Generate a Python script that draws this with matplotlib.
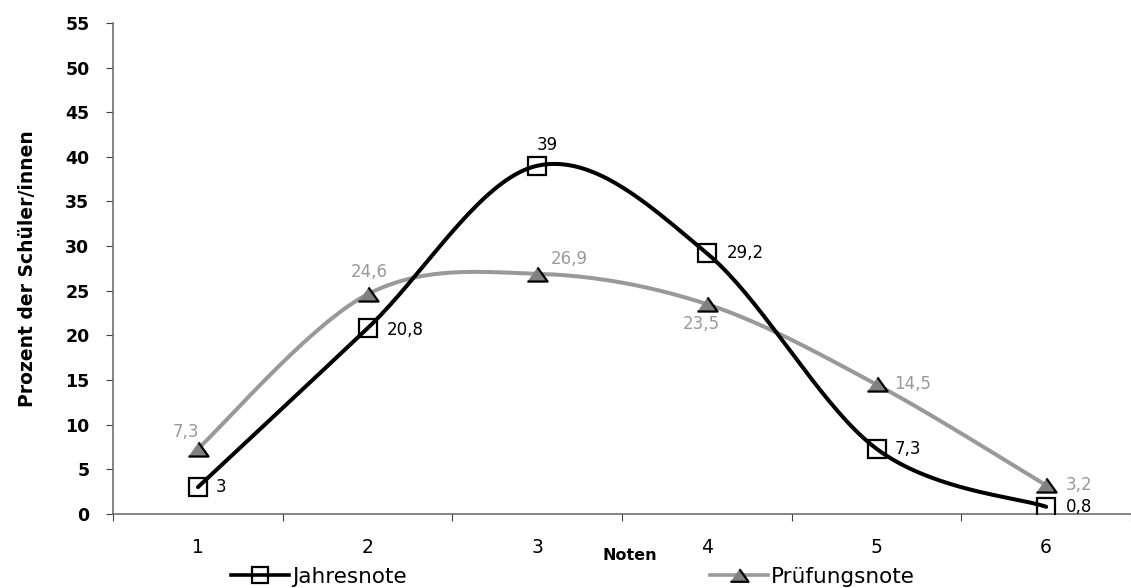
import numpy as np
import matplotlib
matplotlib.use('Agg')
import matplotlib.pyplot as plt
from matplotlib.lines import Line2D

plt.rcParams['font.family'] = ['DejaVu Sans']

noten = [1, 2, 3, 4, 5, 6]
jahresnote = [3, 20.8, 39, 29.2, 7.3, 0.8]
pruefungsnote = [7.3, 24.6, 26.9, 23.5, 14.5, 3.2]
jahres_labels = ['3', '20,8', '39', '29,2', '7,3', '0,8']
pruef_labels = ['7,3', '24,6', '26,9', '23,5', '14,5', '3,2']
yticks = list(range(0, 60, 5))


def smooth(x, y, n=40):
    # bezier smoothing like the excel "smoothed line"
    x = np.asarray(x, float)
    y = np.asarray(y, float)
    px = np.concatenate([[x[0]], x, [x[-1]]])
    py = np.concatenate([[y[0]], y, [y[-1]]])
    xs, ys = [], []
    t = np.linspace(0, 1, n)
    for i in range(1, len(px) - 2):
        p0 = np.array([px[i], py[i]])
        p3 = np.array([px[i + 1], py[i + 1]])
        p1 = p0 + (np.array([px[i + 1], py[i + 1]]) - np.array([px[i - 1], py[i - 1]])) / 6
        p2 = p3 - (np.array([px[i + 2], py[i + 2]]) - np.array([px[i], py[i]])) / 6
        b = ((1 - t) ** 3)[:, None] * p0 + (3 * (1 - t) ** 2 * t)[:, None] * p1 \
            + (3 * (1 - t) * t ** 2)[:, None] * p2 + (t ** 3)[:, None] * p3
        xs.extend(b[:, 0])
        ys.extend(b[:, 1])
    return xs, ys


tri = [(-1, -0.7), (1, -0.7), (0, 0.7)]
grey = '#999999'

fig = plt.figure(figsize=(11.31, 5.88), dpi=100)
ax = fig.add_axes([0.1, 0.126, 0.9, 0.835])

sx, sy = smooth(noten, jahresnote)
ax.plot(sx, sy, color='black', lw=2.9, zorder=3, solid_capstyle='round')
sx, sy = smooth(noten, pruefungsnote)
ax.plot(sx, sy, color=grey, lw=2.9, zorder=2, solid_capstyle='round')
ax.plot(noten, jahresnote, ls='none', marker='s', ms=13.5, mfc='none',
        mec='black', mew=1.6, zorder=4)
ax.plot(noten, pruefungsnote, ls='none', marker=tri, ms=14.5, mfc='#808080',
        mec='black', mew=1.6, zorder=5)

# data labels (offsets in points)
j_off = [(13, 0, 'left'), (14, -1, 'left'), (7, 15, 'center'), (14, 0, 'left'),
         (13, 0, 'left'), (14, 0, 'left')]
p_off = [(-9, 12, 'center'), (1, 16, 'center'), (10, 11, 'left'), (-4, -14, 'center'),
         (13, 0, 'left'), (14, 0, 'left')]
for xv, yv, lab, (dx, dy, ha) in zip(noten, jahresnote, jahres_labels, j_off):
    ax.annotate(lab, (xv, yv), xytext=(dx, dy), textcoords='offset points',
                ha=ha, va='center', fontsize=12, color='black')
for xv, yv, lab, (dx, dy, ha) in zip(noten, pruefungsnote, pruef_labels, p_off):
    ax.annotate(lab, (xv, yv), xytext=(dx, dy), textcoords='offset points',
                ha=ha, va='center', fontsize=12, color=grey)

ax.set_xlim(0.5, 6.5)
ax.set_ylim(0, 55)
ax.set_yticks(yticks)
ax.set_yticklabels([str(v) for v in yticks], fontweight='bold', fontsize=12.5)
ax.set_xticks(np.arange(0.5, 7, 1))
ax.set_xticklabels([])
ax.set_xticks(noten, minor=True)
ax.set_xticklabels([str(v) for v in noten], minor=True, fontsize=13.5)
ax.tick_params(axis='x', which='minor', length=0, pad=17)
ax.tick_params(axis='x', which='major', length=5, direction='out', color='#404040')
ax.tick_params(axis='y', length=5, direction='out', color='#404040', pad=12)
for s in ['top', 'right']:
    ax.spines[s].set_visible(False)
for s in ['left', 'bottom']:
    ax.spines[s].set_color('#707070')
    ax.spines[s].set_linewidth(1.2)
ax.spines['bottom'].set_zorder(1)

ax.set_ylabel('Prozent der Schüler/innen', fontweight='bold', fontsize=13.5, labelpad=20)
fig.text(630 / 1131, 1 - 556 / 588, 'Noten', fontweight='bold', fontsize=11.5,
         ha='center', va='center')

h1 = Line2D([], [], color='black', lw=2.6, marker='s', ms=11, mfc='none', mec='black', mew=1.6)
h2 = Line2D([], [], color=grey, lw=2.6, marker=tri, ms=13, mfc='#808080', mec='black', mew=1.6)
fig.legend([h1], ['Jahresnote'], loc='center left', bbox_to_anchor=(231 / 1131, 1 - 577 / 588),
           frameon=False, fontsize=15.5, handlelength=2.7, handletextpad=0.15, borderpad=0, borderaxespad=0)
fig.legend([h2], ['Prüfungsnote'], loc='center left', bbox_to_anchor=(710 / 1131, 1 - 577 / 588),
           frameon=False, fontsize=15.5, handlelength=2.7, handletextpad=0.15, borderpad=0, borderaxespad=0)

fig.savefig('out.png', dpi=100)
